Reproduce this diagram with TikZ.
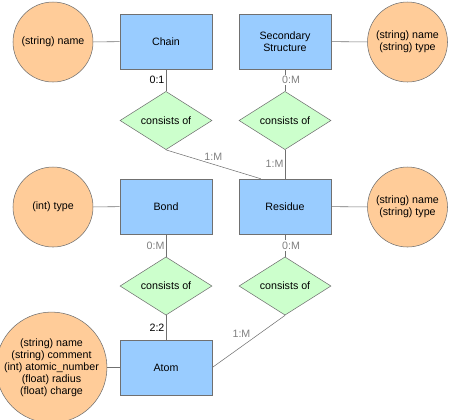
\documentclass[tikz,border=0pt]{standalone}
\usepackage{fontspec}
\setmainfont{Liberation Sans}
\usetikzlibrary{shapes.geometric}
\definecolor{entityBlue}{HTML}{99CCFF}
\definecolor{attrOrange}{HTML}{FFCC99}
\definecolor{relGreen}{HTML}{CCFFCC}
\definecolor{lineGray}{HTML}{707070}
\definecolor{cardGray}{HTML}{808080}
\newcommand{\erUnit}[0]{0.75pt}

\begin{document}
\begin{tikzpicture}[x=\erUnit, y=-\erUnit, font=\fontsize{8}{9}\selectfont]
  \tikzset{
    entity/.style={draw=lineGray, fill=entityBlue, align=center,
      minimum width=69pt, minimum height=41.25pt, inner sep=0pt},
    attr/.style={draw=lineGray, fill=attrOrange, circle, align=center,
      minimum size=60pt, inner sep=0pt},
    rel/.style={draw=lineGray, fill=relGreen, diamond, inner sep=0pt,
      minimum width=69pt, minimum height=41.25pt},
    link/.style={draw=lineGray},
    card/.style={inner sep=1pt},
    cardlight/.style={inner sep=1pt, text=cardGray, fill=white}
  }
  \useasboundingbox (0,0) rectangle (449,419);

  \node[entity] (Chain) at (166,41.5) {Chain};
  \node[entity] (SecStruct) at (285,41.5) {Secondary\\Structure};
  \node[entity] (Bond) at (166,206.5) {Bond};
  \node[entity] (Residue) at (285,206.5) {Residue};
  \node[entity] (Atom) at (166,367.5) {Atom};

  \node[rel] (Rel-1) at (166,120.5) {consists of};
  \node[rel] (Rel-2) at (285,120.5) {consists of};
  \node[rel] (Rel-3) at (166,286) {consists of};
  \node[rel] (Rel-4) at (285,286) {consists of};

  \node[attr] (ChainAttr) at (53,42) {(string) name};
  \node[attr] (SecAttr) at (407.5,42) {(string) name\\(string) type};
  \node[attr] (BondAttr) at (53,207) {(int) type};
  \node[attr] (ResAttr) at (407.5,207) {(string) name\\(string) type};
  \node[attr, minimum size=72.75pt] (AtomAttr) at (51.5,367.5)
    {(string) name\\(string) comment\\(int) atomic\_number\\(float) radius\\(float) charge};

  \draw[link] (ChainAttr) -- (Chain);
  \draw[link] (SecStruct) -- (SecAttr);
  \draw[link] (BondAttr) -- (Bond);
  \draw[link] (Residue) -- (ResAttr);
  \draw[link] (AtomAttr) -- (Atom);

  \draw[link] (Chain.south) -- node[card, left] {0:1} (Rel-1.north);
  \draw[link] (Rel-1.south) -- node[cardlight, pos=0.5, above, yshift=2pt] {1:M}
    ([xshift=16.5pt]Residue.north west);
  \draw[link] (SecStruct.south) -- node[cardlight, xshift=4.5pt] {0:M} (Rel-2.north);
  \draw[link] (Rel-2.south) -- node[cardlight, left, fill=none] {1:M} (Residue.north);
  \draw[link] (Bond.south) -- node[cardlight, left, fill=none] {0:M} (Rel-3.north);
  \draw[link] (Rel-3.south) -- node[card, left] {2:2} (Atom.north);
  \draw[link] (Residue.south) -- node[cardlight, xshift=4.5pt] {0:M} (Rel-4.north);
  \draw[link] (Rel-4.south) -- node[cardlight, pos=0.47, xshift=-7pt, yshift=4.5pt] {1:M}
    (Atom.east);
\end{tikzpicture}
\end{document}
